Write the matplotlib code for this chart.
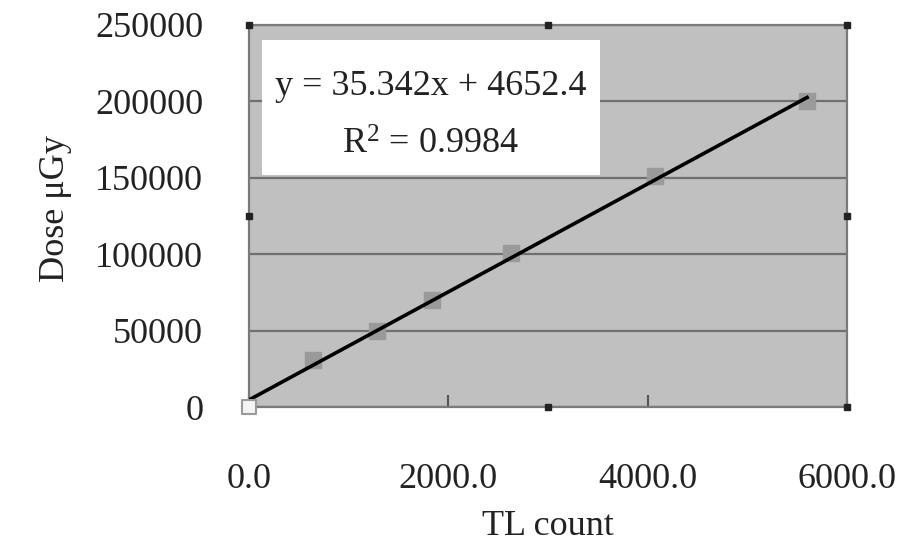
import matplotlib
matplotlib.use('Agg')
import matplotlib.pyplot as plt
from matplotlib.patches import Rectangle
import numpy as np

# Data
tl_count = [0, 640, 1280, 1840, 2630, 4070, 5600]
dose = [0, 31000, 50000, 70000, 101000, 151000, 200000]

# Trend line from the chart's own equation
slope = 35.342
intercept = 4652.4
r_squared = 0.9984

x_ticks = [0, 2000, 4000, 6000]
x_labels = ['0.0', '2000.0', '4000.0', '6000.0']
y_ticks = [0, 50000, 100000, 150000, 200000, 250000]

plt.rcParams['font.family'] = ['Liberation Serif', 'DejaVu Serif']

fig = plt.figure(figsize=(9.11, 5.47), dpi=100)
ax = fig.add_axes([0.2733, 0.2559, 0.6564, 0.6984])
ax.set_facecolor('#c0c0c0')

ax.set_xlim(0, 6000)
ax.set_ylim(0, 250000)
ax.set_xticks(x_ticks)
ax.set_xticklabels(x_labels)
ax.set_yticks(y_ticks)
ax.set_yticklabels([str(v) for v in y_ticks])

# horizontal gridlines
ax.grid(axis='y', color='#707070', linewidth=1.6)
ax.set_axisbelow(True)

for s in ax.spines.values():
    s.set_color('#7a7a7a')
    s.set_linewidth(1.6)

ax.tick_params(axis='x', direction='in', length=9, width=1.5, color='#555555',
               labelsize=26, pad=40, labelcolor='#222222')
ax.tick_params(axis='y', length=0, labelsize=26, pad=33, labelcolor='#222222')

# data points
ax.scatter(tl_count[1:], dose[1:], marker='s', s=120, color='#9a9a9a', zorder=3)
ax.scatter(tl_count[:1], dose[:1], marker='s', s=110, facecolor='#f4f4f4',
           edgecolor='#9a9a9a', linewidth=1.5, zorder=5, clip_on=False)

# linear trend line
xl = np.array([min(tl_count), max(tl_count)])
ax.plot(xl, slope * xl + intercept, color='black', linewidth=2.6, zorder=4)

# equation box
ax.add_patch(Rectangle((0.022, 0.607), 0.565, 0.354, transform=ax.transAxes,
                       facecolor='white', edgecolor='none', zorder=3))
ax.text(0.304, 0.838, f'y = {slope}x + {intercept}', transform=ax.transAxes,
        ha='center', va='center', fontsize=26, color='#222222', zorder=6)
ax.text(0.304, 0.686, r'R$\mathregular{^2}$ = ' + f'{r_squared}', transform=ax.transAxes,
        ha='center', va='center', fontsize=26, color='#222222', zorder=6)

# selection handles around the plot area
hx = [0, 0.5, 1, 0, 1, 0.5, 1]
hy = [1, 1, 1, 0.5, 0.5, 0, 0]
ax.plot(hx, hy, linestyle='none', marker='s', markersize=5, color='#222222',
        transform=ax.transAxes, clip_on=False, zorder=7)

ax.set_xlabel('TL count', fontsize=26, color='#222222')
ax.set_ylabel('Dose μGy', fontsize=26, color='#222222')
ax.xaxis.set_label_coords(0.5, -0.27)
ax.yaxis.set_label_coords(-0.296, 0.52)

plt.savefig('out.png', dpi=100)
